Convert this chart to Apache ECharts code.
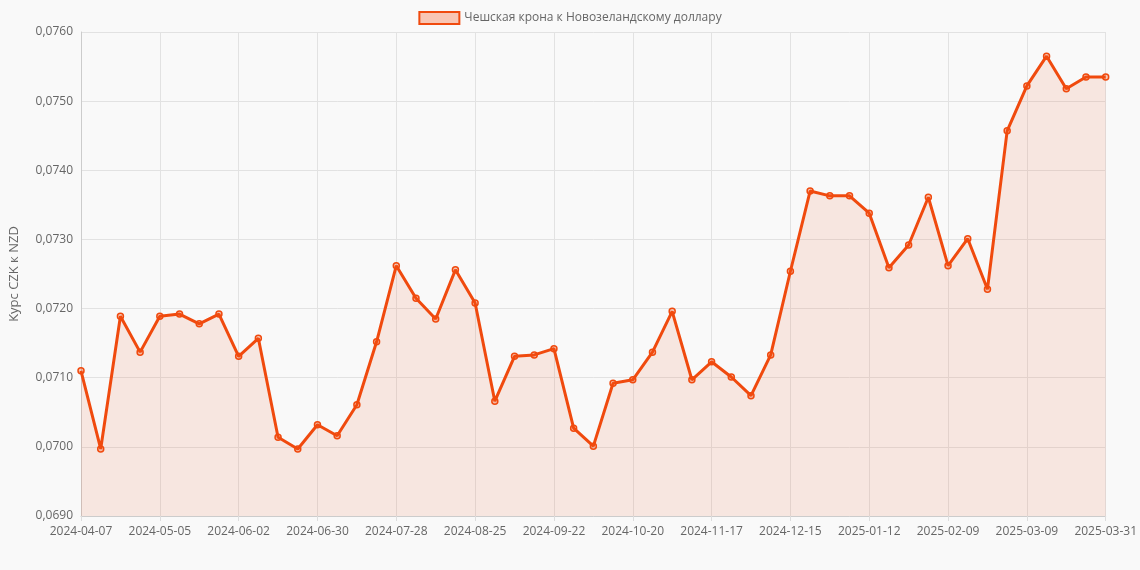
<!DOCTYPE html>
<html>
<head>
<meta charset="utf-8">
<script src="https://cdn.jsdelivr.net/npm/echarts@6/dist/echarts.min.js"></script>
<style>html,body{margin:0;padding:0;background:#f9f9f9}#chart{width:1140px;height:570px}</style>
</head>
<body>
<div id="chart"></div>
<script>
var dates = ['2024-04-07','2024-04-14','2024-04-21','2024-04-28','2024-05-05','2024-05-12','2024-05-19','2024-05-26',
  '2024-06-02','2024-06-09','2024-06-16','2024-06-23','2024-06-30','2024-07-07','2024-07-14','2024-07-21',
  '2024-07-28','2024-08-04','2024-08-11','2024-08-18','2024-08-25','2024-09-01','2024-09-08','2024-09-15',
  '2024-09-22','2024-09-29','2024-10-06','2024-10-13','2024-10-20','2024-10-27','2024-11-03','2024-11-10',
  '2024-11-17','2024-11-24','2024-12-01','2024-12-08','2024-12-15','2024-12-22','2024-12-29','2025-01-05',
  '2025-01-12','2025-01-19','2025-01-26','2025-02-02','2025-02-09','2025-02-16','2025-02-23','2025-03-02',
  '2025-03-09','2025-03-16','2025-03-23','2025-03-30','2025-03-31']
var rates = [0.07110,0.06997,0.07189,0.07137,0.07189,0.07192,0.07178,0.07192,
  0.07131,0.07157,0.07014,0.06997,0.07032,0.07016,0.07061,0.07152,
  0.07262,0.07215,0.07185,0.07256,0.07208,0.07066,0.07131,0.07133,
  0.07142,0.07027,0.07001,0.07092,0.07097,0.07137,0.07196,0.07097,
  0.07123,0.07101,0.07074,0.07133,0.07254,0.07370,0.07363,0.07363,
  0.07338,0.07259,0.07292,0.07361,0.07262,0.07301,0.07228,0.07457,
  0.07522,0.07565,0.07518,0.07535,0.07535]
var seriesName = 'Чешская крона к Новозеландскому доллару'

var chart = echarts.init(document.getElementById('chart'))
chart.setOption({
  backgroundColor: '#f9f9f9',
  textStyle: { fontFamily: 'Open Sans, Arial, sans-serif' },
  legend: {
    top: 6, left: 'center', icon: 'rect', itemWidth: 40, itemHeight: 12,
    textStyle: { color: '#666', fontSize: 12 },
    data: [seriesName]
  },
  grid: { left: 75, right: 34, top: 32, bottom: 54 },
  xAxis: {
    type: 'category', boundaryGap: false, data: dates,
    axisLine: { lineStyle: { color: '#ccc' } },
    axisTick: { show: true, interval: function (i) { return i % 4 === 0 }, lineStyle: { color: '#ddd' } },
    axisLabel: { color: '#666', fontSize: 12, interval: function (i) { return i % 4 === 0 }, margin: 10 },
    splitLine: { show: true, interval: function (i) { return i % 4 === 0 }, lineStyle: { color: '#e2e2e2' } }
  },
  yAxis: {
    type: 'value', min: 0.069, max: 0.076, interval: 0.001,
    name: 'Курс CZK к NZD', nameLocation: 'middle', nameGap: 60,
    nameTextStyle: { color: '#666', fontSize: 13 },
    axisLine: { show: true, lineStyle: { color: '#ccc' } },
    axisLabel: { color: '#666', fontSize: 12, formatter: function (v) { return v.toFixed(4).replace('.', ',') } },
    splitLine: { lineStyle: { color: '#e2e2e2' } }
  },
  series: [{
    name: seriesName, type: 'line', data: rates,
    symbol: 'circle', symbolSize: 6,
    itemStyle: { color: 'rgba(244,80,20,0.3)', borderColor: '#f04a0e', borderWidth: 1.5 },
    lineStyle: { color: '#f04a0e', width: 3 },
    areaStyle: { color: 'rgba(240,80,20,0.15)' }
  }]
})
</script>
</body>
</html>
